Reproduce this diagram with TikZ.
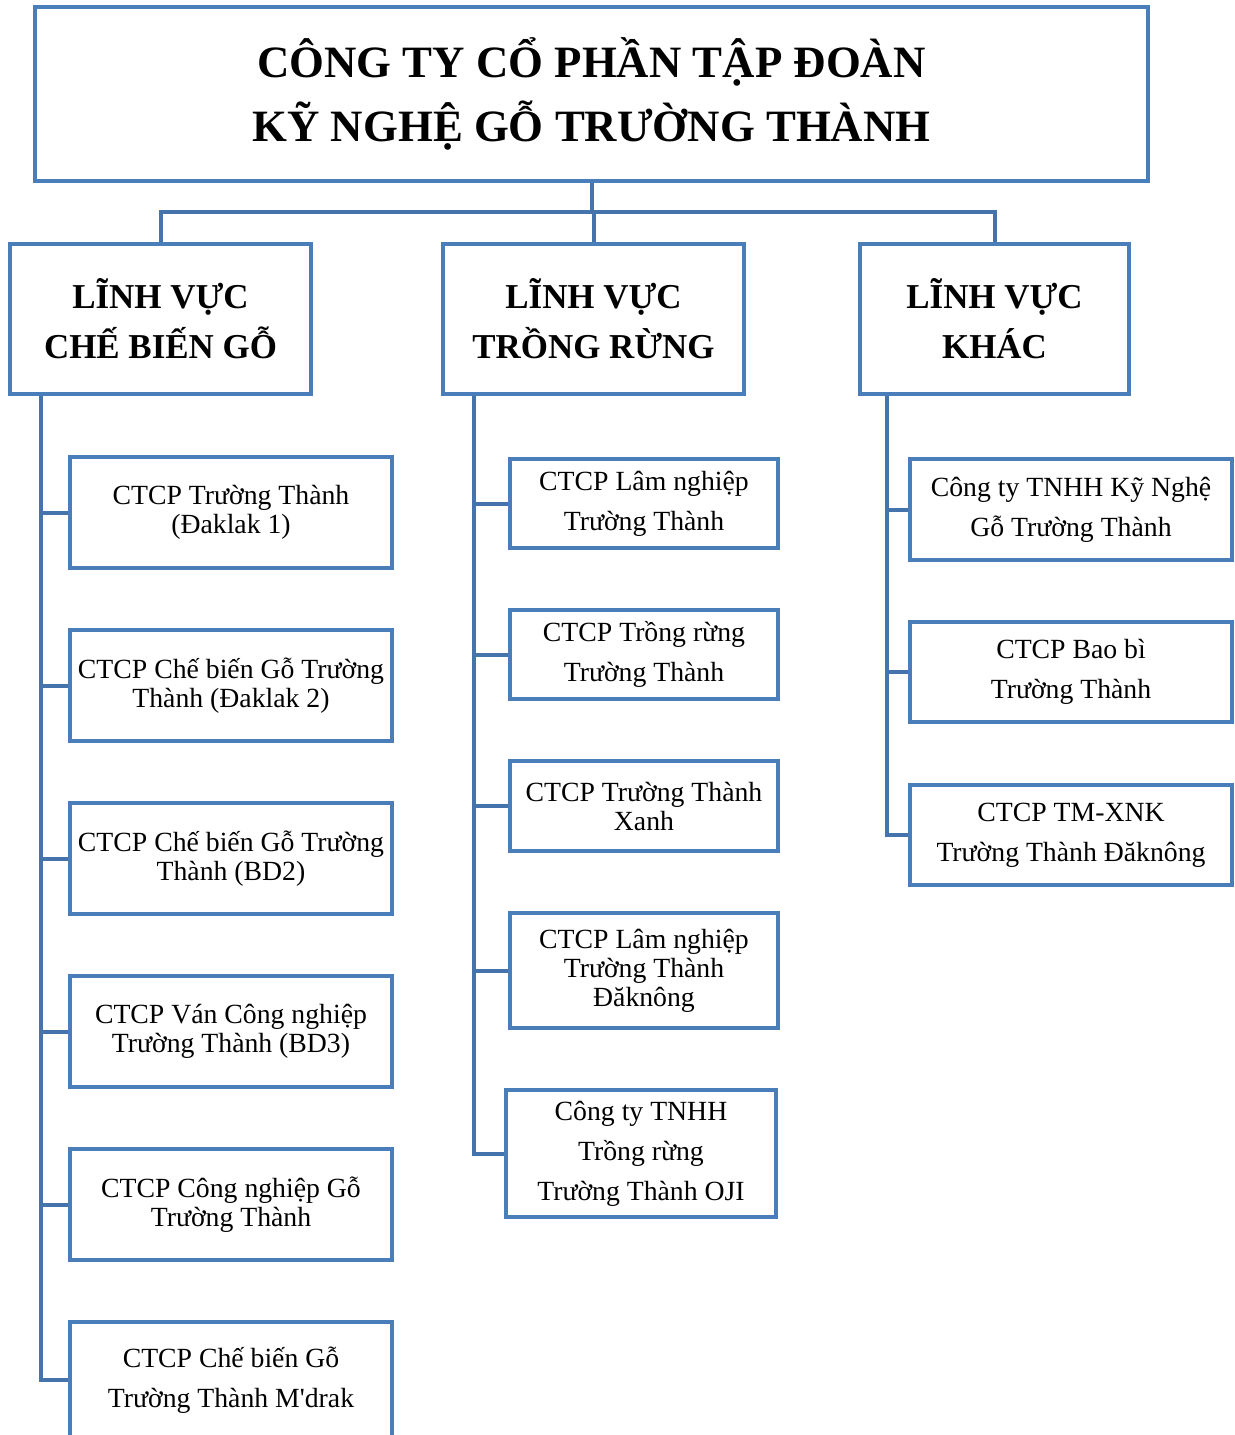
\documentclass[tikz,border=0pt]{standalone}
\usepackage{fontspec}
\setmainfont{Liberation Serif}
\definecolor{boxblue}{HTML}{4A7EBB}
\definecolor{linkblue}{HTML}{4573AC}
\newcommand\mybox[7]{\node[box,#6,minimum width={(#4-#2)*0.75pt},minimum height={(#5-#3)*0.75pt}] (#1) at ({(#2+#4)/2},{(#3+#5)/2}) {#7};}
\begin{document}
\begin{tikzpicture}[x=0.75pt,y=-0.75pt,
  box/.style={draw=boxblue,line width=3pt,rectangle,inner sep=0pt,align=center},
  link/.style={draw=linkblue,line width=3pt},
  ttl/.style={font=\fontsize{33.6}{48}\selectfont\bfseries},
  hd/.style={font=\fontsize{26.2}{37.5}\selectfont\bfseries},
  subtight/.style={font=\fontsize{20.8}{21.75}\selectfont},
  subwide/.style={font=\fontsize{20.8}{30}\selectfont}]
\useasboundingbox (0,0) rectangle (1235,1435);
\mybox{T}{35}{7}{1148}{181}{ttl}{CÔNG TY CỔ PHẦN TẬP ĐOÀN\\KỸ NGHỆ GỖ TRƯỜNG THÀNH}
\mybox{A}{10}{244}{311}{394}{hd}{LĨNH VỰC\\CHẾ BIẾN GỖ}
\mybox{B}{443}{244}{744}{394}{hd}{LĨNH VỰC\\TRỒNG RỪNG}
\mybox{C}{860}{244}{1129}{394}{hd}{LĨNH VỰC\\KHÁC}
% column A
\mybox{a1}{70}{457}{392}{568}{subtight}{CTCP Trường Thành\\(Đaklak 1)}
\mybox{a2}{70}{630}{392}{741}{subtight}{CTCP Chế biến Gỗ Trường\\Thành (Đaklak 2)}
\mybox{a3}{70}{803}{392}{914}{subtight}{CTCP Chế biến Gỗ Trường\\Thành (BD2)}
\mybox{a4}{70}{976}{392}{1087}{subtight}{CTCP Ván Công nghiệp\\Trường Thành (BD3)}
\mybox{a5}{70}{1149}{392}{1260}{subtight}{CTCP Công nghiệp Gỗ\\Trường Thành}
\mybox{a6}{70}{1322}{392}{1438}{subwide}{CTCP Chế biến Gỗ\\Trường Thành M\textquotesingle drak}
% column B
\mybox{b1}{510}{459}{778}{548}{subwide}{CTCP Lâm nghiệp\\Trường Thành}
\mybox{b2}{510}{610}{778}{699}{subwide}{CTCP Trồng rừng\\Trường Thành}
\mybox{b3}{510}{761}{778}{851}{subtight}{CTCP Trường Thành\\Xanh}
\mybox{b4}{510}{913}{778}{1028}{subtight}{CTCP Lâm nghiệp\\Trường Thành\\Đăknông}
\mybox{b5}{506}{1090}{776}{1217}{subwide}{Công ty TNHH\\Trồng rừng\\Trường Thành OJI}
% column C
\mybox{c1}{910}{459}{1232}{560}{subwide}{Công ty TNHH Kỹ Nghệ\\Gỗ Trường Thành}
\mybox{c2}{910}{622}{1232}{722}{subwide}{CTCP Bao bì\\Trường Thành}
\mybox{c3}{910}{785}{1232}{885}{subwide}{CTCP TM-XNK\\Trường Thành Đăknông}
% top connectors
\coordinate (bar) at (592,212);
\draw[link] (T.south) -- (T.south |- bar);
\draw[link] (A.north) -- (A.north |- bar) -- (C.north |- bar) -- (C.north);
\draw[link] (B.north) -- (B.north |- bar);
% trunks
\coordinate (ta) at (41,0);
\coordinate (tb) at (474,0);
\coordinate (tc) at (887,0);
\draw[link] (A.south -| ta) -- (a6.west -| ta) -- (a6.west);
\foreach \n in {a1,a2,a3,a4,a5} \draw[link] (\n.west -| ta) -- (\n.west);
\draw[link] (B.south -| tb) -- (b5.west -| tb) -- (b5.west);
\foreach \n in {b1,b2,b3,b4} \draw[link] (\n.west -| tb) -- (\n.west);
\draw[link] (C.south -| tc) -- (c3.west -| tc) -- (c3.west);
\foreach \n in {c1,c2} \draw[link] (\n.west -| tc) -- (\n.west);
\end{tikzpicture}
\end{document}
